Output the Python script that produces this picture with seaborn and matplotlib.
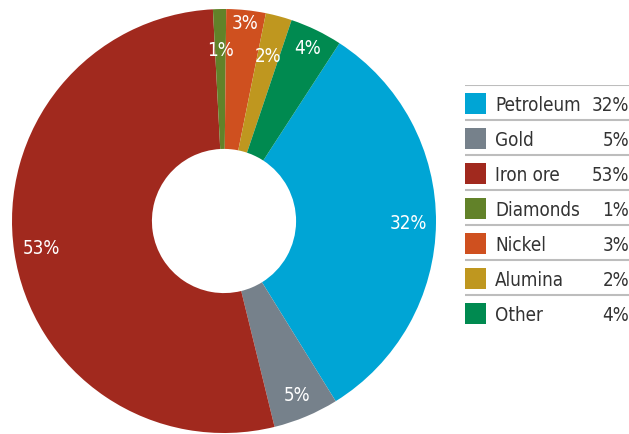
import numpy as np
import matplotlib
matplotlib.use("Agg")
import matplotlib.pyplot as plt
import seaborn as sns

# data
products = ["Petroleum", "Gold", "Iron ore", "Diamonds", "Nickel", "Alumina", "Other"]
shares = [32, 5, 53, 1, 3, 2, 4]
colors = ["#00A5D5", "#76818B", "#A1291E", "#628229", "#CF501F", "#BF971F", "#008A50"]
# how far out (fraction of radius) each percent label sits
label_dist = [0.87, 0.89, 0.87, 0.81, 0.94, 0.81, 0.91]

sns.set_theme(style="white")
plt.rcParams["font.family"] = ["DejaVu Sans"]
plt.rcParams["font.stretch"] = "condensed"

fig = plt.figure(figsize=(6.29, 4.35), dpi=100)

# donut
ax = fig.add_axes([12 / 629, 1 / 435, 424 / 629, 424 / 435])
wedges, _ = ax.pie(shares, colors=sns.color_palette(colors), startangle=57,
                   counterclock=False, radius=1,
                   wedgeprops=dict(width=0.66, linewidth=0))
for w, s, d in zip(wedges, shares, label_dist):
    ang = np.deg2rad((w.theta1 + w.theta2) / 2)
    ax.text(d * np.cos(ang), d * np.sin(ang), f"{s}%", color="white",
            fontsize=13.5, ha="center", va="center", stretch="condensed")
ax.set_xlim(-1, 1)
ax.set_ylim(-1, 1)
ax.set_aspect("equal")
ax.axis("off")

# legend table
lg = fig.add_axes([465 / 629, 104 / 435, 164 / 629, 245 / 435])
lg.set_xlim(0, 1)
lg.set_ylim(len(products), 0)
lg.axis("off")
for i, (name, s, c) in enumerate(zip(products, shares, colors)):
    lg.axhline(i, color="#BDBDBD", linewidth=1.5)
    lg.add_patch(plt.Rectangle((0, i + 0.22), 21 / 164, 0.6, color=c, linewidth=0))
    lg.text(30 / 164, i + 0.55, name, fontsize=13.5, color="#333333",
            va="center", ha="left", stretch="condensed")
    lg.text(1.0, i + 0.55, f"{s}%", fontsize=13.5, color="#333333",
            va="center", ha="right", stretch="condensed")

fig.savefig("out.png", dpi=100)
